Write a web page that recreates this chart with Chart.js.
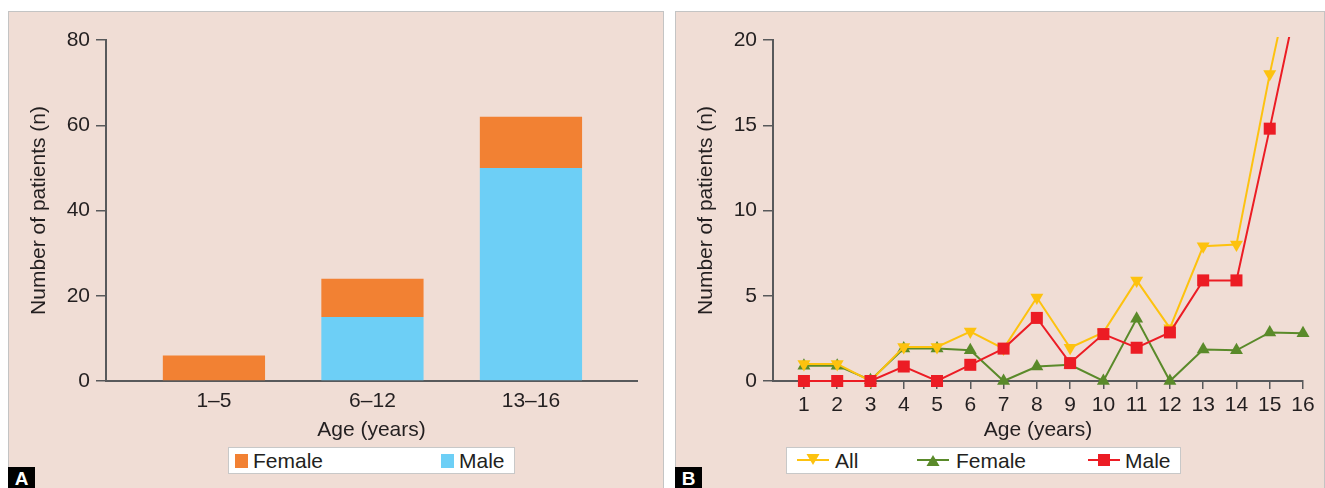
<!DOCTYPE html>
<html>
<head>
<meta charset="utf-8">
<script src="https://cdn.jsdelivr.net/npm/chart.js@4.4.1/dist/chart.umd.min.js"></script>
<style>
  body { margin: 0; width: 1325px; height: 488px; overflow: hidden; background: #fff; position: relative;
         font-family: "Liberation Sans", Arial, sans-serif; color: #231f20; }
  .panel { position: absolute; top: 11px; height: 490px; background: #f0ddd5; border: 1px solid #c4c4c4; box-sizing: border-box; }
  .panel canvas { position: absolute; left: 0; top: 0; }
  .legend { position: absolute; top: 447px; height: 27px; background: #fff; border: 1px solid #c8c8c8; box-sizing: border-box; font-size: 21px; }
  .legend span { position: absolute; top: 0; line-height: 25px; }
  .legend .swatch { top: 6px; width: 13px; height: 14px; }
  .legend svg { position: absolute; top: 4px; }
  .tag { position: absolute; top: 467px; width: 27px; height: 21px; background: #000; color: #fff;
         font-weight: bold; font-size: 19px; text-align: center; line-height: 23px; }
</style>
</head>
<body>
<div class="panel" style="left:8px; width:656px;"><canvas id="chartA" width="654" height="476"></canvas></div>
<div class="panel" style="left:675px; width:650px;"><canvas id="chartB" width="648" height="476"></canvas></div>

<div class="legend" style="left:228px; width:287px;">
  <span class="swatch" style="left:6px; background:#f28133;"></span><span style="left:24px;">Female</span>
  <span class="swatch" style="left:212px; background:#6dcff6;"></span><span style="left:230px;">Male</span>
</div>
<div class="legend" style="left:786px; width:395px;">
  <svg style="left:10px;" width="32" height="17"><line x1="0" y1="8" x2="32" y2="8" stroke="#fdc20f" stroke-width="2"/><polygon points="9.5,2 22.5,2 16,13" fill="#fdc20f"/></svg>
  <span style="left:48px;">All</span>
  <svg style="left:130px;" width="32" height="17"><line x1="0" y1="8" x2="32" y2="8" stroke="#5a8a2a" stroke-width="2"/><polygon points="9.5,14 22.5,14 16,3" fill="#5a8a2a"/></svg>
  <span style="left:169px;">Female</span>
  <svg style="left:301px;" width="32" height="17"><line x1="0" y1="8" x2="32" y2="8" stroke="#ec1c24" stroke-width="2"/><rect x="10" y="2" width="12" height="12" fill="#ec1c24"/></svg>
  <span style="left:338px;">Male</span>
</div>
<div class="tag" style="left:8px;">A</div>
<div class="tag" style="left:675px;">B</div>

<script>
// Panel A: patients per age group
const ageGroups = ['1–5', '6–12', '13–16'];
const maleByGroup = [0, 15, 50];
const femaleByGroup = [6, 9, 12];
const groupTicks = [0, 20, 40, 60, 80];

// Panel B: patients per year of age
const ages = [1, 2, 3, 4, 5, 6, 7, 8, 9, 10, 11, 12, 13, 14, 15, 16];
const allByAge = [1, 1, 0, 2, 2, 2.9, 1.9, 4.9, 1.95, 2.85, 5.9, 3.1, 7.9, 8, 18, 27];
const femaleByAge = [0.9, 0.9, 0.05, 1.9, 1.9, 1.8, 0, 0.85, 0.95, 0, 3.65, 0, 1.85, 1.8, 2.85, 2.8];
const maleByAge = [0, 0, 0, 0.85, 0, 0.95, 1.9, 3.7, 1.05, 2.75, 1.95, 2.85, 5.9, 5.9, 14.8, 24];
const ageTicks = [0, 5, 10, 15, 20];

const AXIS = '#58595b';
const TEXT = '#231f20';
const FONT = { family: '"Liberation Sans", Arial, sans-serif', size: 21 };

// shared axis styles
function yAxis(max, step, tickValues) {
  return {
    min: 0, max: max,
    afterFit: s => { s.width = 97; },
    afterBuildTicks: s => { s.ticks = tickValues.map(v => ({ value: v })); },
    border: { display: true, color: AXIS, width: 2 },
    grid: { drawOnChartArea: false, drawTicks: true, tickLength: 10, color: AXIS, lineWidth: 1.5 },
    ticks: { font: FONT, color: TEXT, padding: 6 },
    title: { display: true, text: 'Number of patients (n)', font: FONT, color: TEXT, padding: { top: 18, bottom: 0 } }
  };
}

function xTitle() {
  return { display: true, text: 'Age (years)', font: FONT, color: TEXT, padding: { top: 0, bottom: 0 } };
}

Chart.defaults.animation = false;

// groups sit on a numeric axis so the side margins can differ from half a slot
const groupIndex = ageGroups.map((g, i) => i);

new Chart(document.getElementById('chartA'), {
  type: 'bar',
  data: {
    datasets: [
      { label: 'Male', data: groupIndex.map(i => ({ x: i, y: maleByGroup[i] })), backgroundColor: '#6dcff6' },
      { label: 'Female', data: groupIndex.map(i => ({ x: i, y: femaleByGroup[i] })), backgroundColor: '#f28133' }
    ]
  },
  options: {
    responsive: false,
    layout: { padding: { left: 0, top: 28, right: 26, bottom: 45 } },
    datasets: { bar: { barPercentage: 0.645, categoryPercentage: 1 } },
    plugins: { legend: { display: false }, tooltip: { enabled: false } },
    scales: {
      x: {
        type: 'linear', stacked: true, offset: false, min: -0.681, max: 2.669,
        afterFit: s => { s.height = 62; },
        afterBuildTicks: s => { s.ticks = groupIndex.map(v => ({ value: v })); },
        border: { display: true, color: AXIS, width: 2 },
        grid: { display: false, drawTicks: false },
        ticks: { font: FONT, color: TEXT, padding: 8, callback: v => ageGroups[v] },
        title: xTitle()
      },
      y: Object.assign(yAxis(80, 20, groupTicks), { stacked: true })
    }
  }
});

new Chart(document.getElementById('chartB'), {
  type: 'line',
  data: {
    datasets: [
      { label: 'All', data: ages.map((a, i) => ({ x: a, y: allByAge[i] })), borderColor: '#fdc20f', backgroundColor: '#fdc20f',
        pointStyle: 'triangle', rotation: 180, pointRadius: 7.5, order: 1 },
      { label: 'Female', data: ages.map((a, i) => ({ x: a, y: femaleByAge[i] })), borderColor: '#5a8a2a', backgroundColor: '#5a8a2a',
        pointStyle: 'triangle', pointRadius: 7.5, order: 2 },
      { label: 'Male', data: ages.map((a, i) => ({ x: a, y: maleByAge[i] })), borderColor: '#ec1c24', backgroundColor: '#ec1c24',
        pointStyle: 'rect', pointRadius: 8.5, order: 0 }
    ]
  },
  options: {
    responsive: false,
    layout: { padding: { left: 0, top: 28, right: 21, bottom: 45 } },
    datasets: { line: { borderWidth: 2, pointBorderWidth: 0, tension: 0, clip: { left: 20, right: 20, top: 3, bottom: 20 } } },
    plugins: { legend: { display: false }, tooltip: { enabled: false } },
    scales: {
      x: {
        type: 'linear', min: 0.07, max: 16,
        afterFit: s => { s.height = 62; },
        afterBuildTicks: s => { s.ticks = ages.map(v => ({ value: v })); },
        border: { display: true, color: AXIS, width: 2 },
        grid: { drawOnChartArea: false, drawTicks: true, tickLength: 8, color: AXIS, lineWidth: 1.5 },
        ticks: { font: FONT, color: TEXT, padding: 4 },
        title: xTitle()
      },
      y: yAxis(20, 5, ageTicks)
    }
  }
});
</script>
</body>
</html>
